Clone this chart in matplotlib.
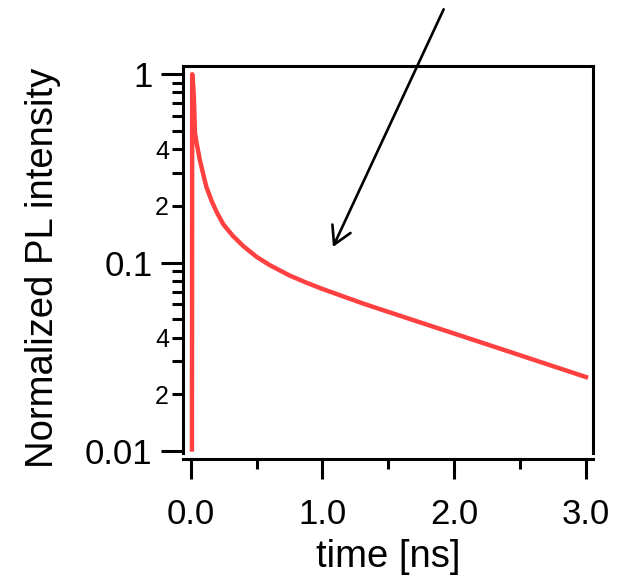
import matplotlib
matplotlib.use("Agg")
import matplotlib.pyplot as plt
from matplotlib.ticker import FixedLocator, FixedFormatter

plt.rcParams['font.family'] = ['Liberation Sans', 'DejaVu Sans']

# data
time_ns = [0.010, 0.012, 0.020, 0.025, 0.033, 0.045, 0.07, 0.095, 0.12, 0.16, 0.20,
           0.25, 0.32, 0.40, 0.50, 0.60, 0.75, 0.87, 1.0, 1.31, 1.69, 2.07, 2.45, 3.0]
intensity = [0.0102, 1.0, 0.86, 0.74, 0.487, 0.433, 0.350, 0.296, 0.2516, 0.212, 0.184,
             0.159, 0.1388, 0.1223, 0.1074, 0.0970, 0.0855, 0.0787, 0.0725, 0.0606,
             0.0495, 0.0405, 0.0331, 0.0247]

x_major = [0.0, 1.0, 2.0, 3.0]
x_major_labels = ["0.0", "1.0", "2.0", "3.0"]
x_minor = [0.5, 1.5, 2.5]
y_major = [0.01, 0.1, 1.0]
y_major_labels = ["0.01", "0.1", "1"]
y_minor = [0.02, 0.03, 0.04, 0.05, 0.06, 0.07, 0.08, 0.09,
           0.2, 0.3, 0.4, 0.5, 0.6, 0.7, 0.8, 0.9]
y_minor_labels = ["2", "", "4", "", "", "", "", "",
                  "2", "", "4", "", "", "", "", ""]

arrow_tip = (1.08, 0.121)
arrow_tail = (1.92, 2.21)

fig = plt.figure(figsize=(6.23, 5.76), dpi=100)
ax = fig.add_axes([0.2937, 0.2135, 0.9518 - 0.2937, 0.886 - 0.2135])

ax.plot(time_ns, intensity, color='#ff4040', lw=3.2, solid_joinstyle='round')

ax.set_yscale('log')
ax.set_xlim(-0.058, 3.053)
ax.set_ylim(0.00976, 1.11)

ax.xaxis.set_major_locator(FixedLocator(x_major))
ax.xaxis.set_major_formatter(FixedFormatter(x_major_labels))
ax.xaxis.set_minor_locator(FixedLocator(x_minor))
ax.yaxis.set_major_locator(FixedLocator(y_major))
ax.yaxis.set_major_formatter(FixedFormatter(y_major_labels))
ax.yaxis.set_minor_locator(FixedLocator(y_minor))
ax.yaxis.set_minor_formatter(FixedFormatter(y_minor_labels))

for s in ax.spines.values():
    s.set_linewidth(2.2)
ax.spines['bottom'].set_position(('outward', 4.3))

ax.tick_params(which='both', direction='out', width=2.2, color='black')
ax.tick_params(axis='x', which='major', length=14.4, labelsize=25, pad=13.5)
ax.tick_params(axis='x', which='minor', length=7.2)
ax.tick_params(axis='y', which='major', length=16, labelsize=25, pad=6)
ax.tick_params(axis='y', which='minor', length=8, labelsize=18, pad=2)
ax.tick_params(top=False, right=False)

ax.set_xlabel("time [ns]", fontsize=27.5, labelpad=6)
ax.set_ylabel("Normalized PL intensity", fontsize=27.5)
ax.yaxis.set_label_coords(-0.297, 0.477)

ax.annotate("", xy=arrow_tip, xytext=arrow_tail, xycoords='data', textcoords='data',
            annotation_clip=False,
            arrowprops=dict(arrowstyle='->,head_length=0.63,head_width=0.36',
                            mutation_scale=20, lw=1.9, color='black',
                            shrinkA=0, shrinkB=0))

fig.savefig("out.png", dpi=100)
